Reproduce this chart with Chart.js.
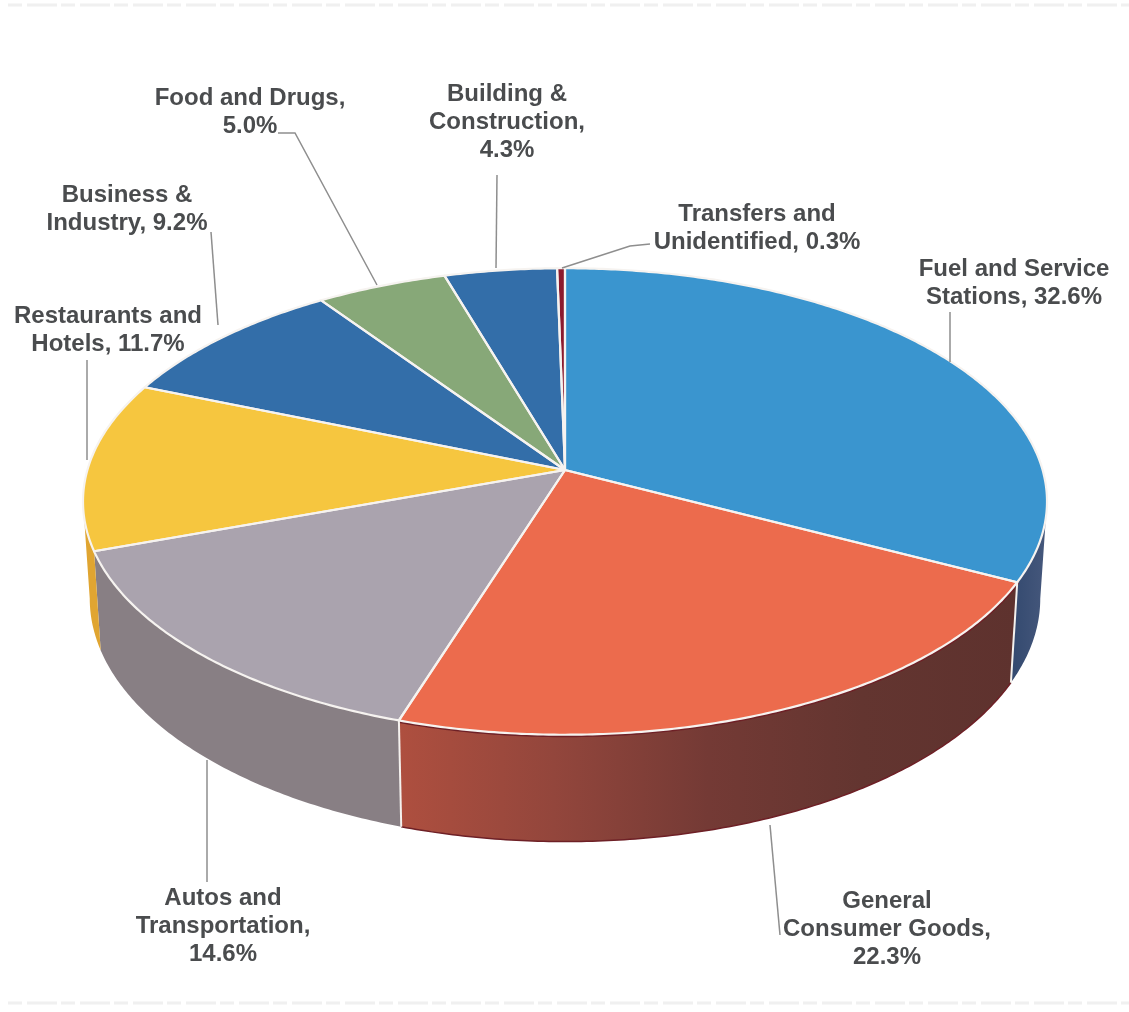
<!DOCTYPE html>
<html>
<head>
<meta charset="utf-8">
<title>Sales by category</title>
<script src="https://cdn.jsdelivr.net/npm/chart.js@4"></script>
<style>
  html, body { margin: 0; padding: 0; background: #fff; }
  canvas { display: block; }
</style>
</head>
<body>
<canvas id="pie" width="1129" height="1012"></canvas>
<script>
// --- data ---
const categories = ['Fuel and Service Stations', 'General Consumer Goods', 'Autos and Transportation',
    'Restaurants and Hotels', 'Business & Industry', 'Food and Drugs', 'Building & Construction',
    'Transfers and Unidentified'];
const shares = [32.6, 22.3, 14.6, 11.7, 9.2, 5.0, 4.3, 0.3];
const labelLines = [
    ['Fuel and Service', 'Stations, 32.6%'],
    ['General', 'Consumer Goods,', '22.3%'],
    ['Autos and', 'Transportation,', '14.6%'],
    ['Restaurants and', 'Hotels, 11.7%'],
    ['Business &', 'Industry, 9.2%'],
    ['Food and Drugs,', '5.0%'],
    ['Building &', 'Construction,', '4.3%'],
    ['Transfers and', 'Unidentified, 0.3%']
];

// --- style ---
const topColors = ['#3a95cf', '#ec6b4d', '#aaa3ae', '#f6c63f', '#336ea9', '#87a878', '#336ea9', '#8b1a2e'];
const wallStops = [
    ['#33496f', '#46587c'],
    ['#ae4f3f', '#93463c', '#743a35', '#633530', '#5e322e'],
    ['#887f84', '#887f84'],
    ['#e0a531', '#e0a531'],
    ['#336ea9', '#336ea9'], ['#87a878', '#87a878'], ['#336ea9', '#336ea9'], ['#8b1a2e', '#8b1a2e']
];
const labelPos = [[1014, 269], [887, 901], [223, 898], [108, 316], [127, 195], [250, 98], [507, 94], [757, 214]];
const leaders = [
    [[950, 312], [950, 362]],
    [[770, 825], [780, 935]],
    [[207, 760], [207, 882]],
    [[87, 360], [87, 460]],
    [[211, 232], [218, 325]],
    [[278, 133], [295, 133], [377, 285]],
    [[497, 175], [496, 268]],
    [[650, 244], [630, 246], [562, 268]]
];
// faint streaks left by the scanner along the page edges
const scanStreaks = [[[8, 5], [1129, 5]], [[8, 1003], [1129, 1003]]];

// --- perspective of the 3D disc ---
const cx = 565, cy = 470, R = 477.6, S = 229, P = 0.135, DEPTH = 97, SHRINK = 0.986;
const TANGENT = Math.asin(P);   // angle where the rim is widest, the wall's silhouette starts here

function project(a, lower) {
    const u = Math.cos(a), v = Math.sin(a), w = 1 - P * v;
    const x = R * u / w, y = S * v / w;
    if (!lower) return [cx + x, cy + y];
    return [cx + x * SHRINK, cy + (y + DEPTH / w) * SHRINK];
}

function arcPoints(a0, a1, lower) {
    const pts = [], n = Math.max(2, Math.ceil(Math.abs(a1 - a0) / 0.01));
    for (let i = 0; i <= n; i++) pts.push(project(a0 + (a1 - a0) * i / n, lower));
    return pts;
}

function tracePath(ctx, pts) {
    ctx.beginPath();
    pts.forEach((p, i) => i ? ctx.lineTo(p[0], p[1]) : ctx.moveTo(p[0], p[1]));
}

const disc3d = {
    id: 'disc3d',
    beforeDatasetDraw(chart, args) {
        const ctx = chart.ctx, arcs = args.meta.data;
        ctx.save();
        ctx.lineJoin = 'round';

        // walls, front half only
        arcs.forEach((el, i) => {
            const a0 = Math.max(el.startAngle, TANGENT), a1 = Math.min(el.endAngle, Math.PI - TANGENT);
            if (a1 <= a0) return;
            const top = arcPoints(a0, a1, false), low = arcPoints(a0, a1, true);
            const xs = top.concat(low).map(p => p[0]);
            const g = ctx.createLinearGradient(Math.min(...xs), 0, Math.max(...xs), 0);
            wallStops[i].forEach((c, k, all) => g.addColorStop(k / (all.length - 1), c));
            ctx.fillStyle = g;
            tracePath(ctx, top.concat(low.slice().reverse()));
            ctx.closePath();
            ctx.fill();
            if (i === 1) {
                // the red wall has a darker line along both rims
                ctx.strokeStyle = '#6e2026';
                ctx.lineWidth = 1.5;
                tracePath(ctx, low);
                ctx.stroke();
                ctx.lineWidth = 5;
                tracePath(ctx, top);
                ctx.stroke();
            }
        });

        // seams between the front walls
        ctx.strokeStyle = '#f4f1ee';
        ctx.lineWidth = 2;
        [arcs[0].endAngle, arcs[1].endAngle].forEach(a => {
            tracePath(ctx, [project(a, false), project(a, true)]);
            ctx.stroke();
        });

        // top face
        arcs.forEach((el, i) => {
            tracePath(ctx, [[cx, cy]].concat(arcPoints(el.startAngle, el.endAngle, false)));
            ctx.closePath();
            ctx.fillStyle = topColors[i];
            ctx.fill();
        });
        arcs.forEach((el) => {
            tracePath(ctx, [[cx, cy]].concat(arcPoints(el.startAngle, el.endAngle, false)));
            ctx.closePath();
            ctx.strokeStyle = '#f6f3f0';
            ctx.lineWidth = 2.2;
            ctx.stroke();
        });
        ctx.restore();
        return false;
    },
    afterDraw(chart) {
        const ctx = chart.ctx;
        ctx.save();

        ctx.strokeStyle = 'rgba(170,170,170,0.18)';
        ctx.lineWidth = 3;
        ctx.setLineDash([14, 5, 30, 4]);
        scanStreaks.forEach(l => { tracePath(ctx, l); ctx.stroke(); });
        ctx.setLineDash([]);

        // leader lines
        ctx.strokeStyle = '#8e8e8e';
        ctx.lineWidth = 1.5;
        leaders.forEach(l => { tracePath(ctx, l); ctx.stroke(); });

        // labels
        ctx.fillStyle = '#4a4c4e';
        ctx.font = 'bold 24px "Liberation Sans", Arial, sans-serif';
        ctx.textAlign = 'center';
        ctx.textBaseline = 'middle';
        labelLines.forEach((lines, i) => {
            lines.forEach((t, k) => ctx.fillText(t, labelPos[i][0], labelPos[i][1] + k * 28));
        });
        ctx.restore();
    }
};

new Chart(document.getElementById('pie'), {
    type: 'pie',
    data: {
        labels: categories,
        datasets: [{ data: shares, backgroundColor: topColors, borderWidth: 0 }]
    },
    options: {
        responsive: false,
        animation: false,
        plugins: { legend: { display: false }, tooltip: { enabled: false } }
    },
    plugins: [disc3d]
});
</script>
</body>
</html>
